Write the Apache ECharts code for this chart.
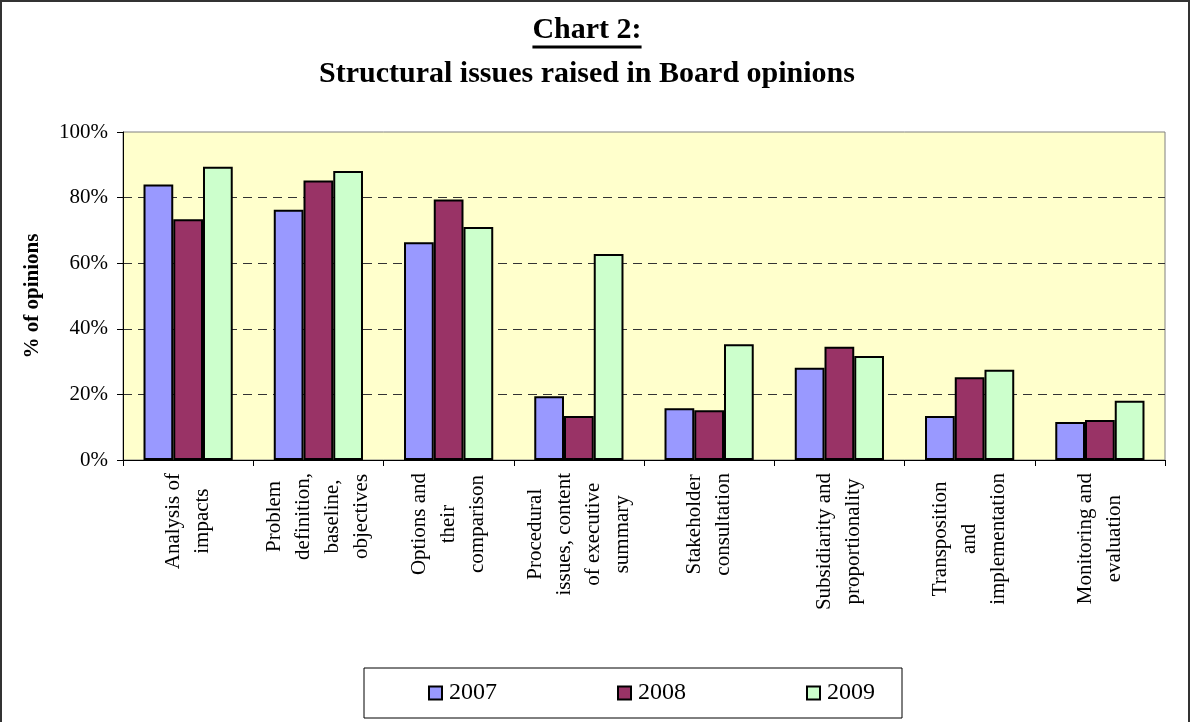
<!DOCTYPE html>
<html>
<head>
<meta charset="utf-8">
<script src="https://cdn.jsdelivr.net/npm/echarts@6/dist/echarts.min.js"></script>
<style>
html, body { margin: 0; padding: 0; background: #fff; }
#chart { width: 1191px; height: 722px; }
</style>
</head>
<body>
<div id="chart"></div>
<script>
const titleLine1 = 'Chart 2:';
const titleLine2 = 'Structural issues raised in Board opinions';
const yAxisName = '% of opinions';
const categories = [
  'Analysis of\nimpacts',
  'Problem\ndefinition,\nbaseline,\nobjectives',
  'Options and\ntheir\ncomparison',
  'Procedural\nissues, content\nof executive\nsummary',
  'Stakeholder\nconsultation',
  'Subsidiarity and\nproportionality',
  'Transposition\nand\nimplementation',
  'Monitoring and\nevaluation'
];
const seriesNames = ['2007', '2008', '2009'];
const values2007 = [84.0, 76.3, 66.4, 19.4, 15.8, 28.1, 13.4, 11.6];
const values2008 = [73.4, 85.2, 79.4, 13.4, 15.2, 34.5, 25.2, 12.2];
const values2009 = [89.4, 88.1, 71.0, 62.8, 35.3, 31.7, 27.5, 18.1];
const yTicks = [0, 20, 40, 60, 80, 100];

const FONT = '"Liberation Serif", "Times New Roman", serif';
const colors = ['#9999FF', '#993366', '#CCFFCC'];
const seriesValues = [values2007, values2008, values2009];

const titleCenterX = 587;
const ctx = document.createElement('canvas').getContext('2d');
ctx.font = 'bold 30px ' + FONT;
const t1w = ctx.measureText(titleLine1).width;

const chart = echarts.init(document.getElementById('chart'), null, { renderer: 'canvas' });
chart.setOption({
  animation: false,
  backgroundColor: '#ffffff',
  title: [
    { text: titleLine1, left: titleCenterX, top: 15, textAlign: 'center', padding: 0,
      textStyle: { fontFamily: FONT, fontSize: 30, fontWeight: 'bold', color: '#000' } },
    { text: titleLine2, left: titleCenterX, top: 59, textAlign: 'center', padding: 0,
      textStyle: { fontFamily: FONT, fontSize: 30, fontWeight: 'bold', color: '#000' } }
  ],
  graphic: [
    { type: 'rect', silent: true, z: -1,
      shape: { x: 1, y: 1, width: 1188, height: 800 },
      style: { fill: null, stroke: '#333', lineWidth: 2 } },
    { type: 'line', silent: true,
      shape: { x1: titleCenterX - t1w / 2, y1: 47, x2: titleCenterX + t1w / 2, y2: 47 },
      style: { stroke: '#000', lineWidth: 3 } }
  ],
  legend: {
    data: seriesNames,
    left: 364, top: 668,
    padding: [13, 27, 13, 64],
    itemGap: 120,
    itemWidth: 13, itemHeight: 13,
    icon: 'rect',
    borderColor: '#000', borderWidth: 1,
    textStyle: { fontFamily: FONT, fontSize: 24, color: '#000', padding: [0, 0, 0, 2] }
  },
  grid: {
    left: 123, right: 26, top: 132, bottom: 262,
    show: true, backgroundColor: '#FFFFCC', borderColor: '#808080', borderWidth: 1
  },
  xAxis: {
    type: 'category',
    data: categories,
    axisLine: { lineStyle: { color: '#000', width: 1 } },
    axisTick: { show: true, interval: 0, length: 6, lineStyle: { color: '#000' } },
    axisLabel: {
      interval: 0, rotate: 90, margin: 13,
      fontFamily: FONT, fontSize: 21, color: '#000', lineHeight: 29,
      formatter: function (v) {
        return v.split('\n').map(function (l) { return '{c|' + l + '}'; }).join('\n');
      },
      rich: { c: { align: 'center', fontFamily: FONT, fontSize: 21, color: '#000', lineHeight: 29 } }
    },
    splitLine: { show: false }
  },
  yAxis: {
    type: 'value',
    min: yTicks[0], max: yTicks[yTicks.length - 1], interval: yTicks[1] - yTicks[0],
    name: yAxisName,
    nameLocation: 'middle',
    nameGap: 80,
    nameRotate: 90,
    nameTextStyle: { fontFamily: FONT, fontSize: 21, fontWeight: 'bold', color: '#000' },
    axisLine: { show: true, lineStyle: { color: '#000', width: 1 } },
    axisTick: { show: true, length: 6, inside: false, lineStyle: { color: '#000' } },
    axisLabel: {
      formatter: '{value}%', margin: 15,
      fontFamily: FONT, fontSize: 21, color: '#000'
    },
    splitLine: {
      show: true, showMinLine: false, showMaxLine: false,
      lineStyle: { color: '#333', type: [9, 6], width: 1 }
    }
  },
  series: seriesNames.map(function (name, i) {
    return {
      name: name,
      type: 'bar',
      data: seriesValues[i],
      barGap: '0%',
      barCategoryGap: '31.5%',
      itemStyle: { color: colors[i], borderColor: '#000', borderWidth: 2 }
    };
  })
});
</script>
</body>
</html>
